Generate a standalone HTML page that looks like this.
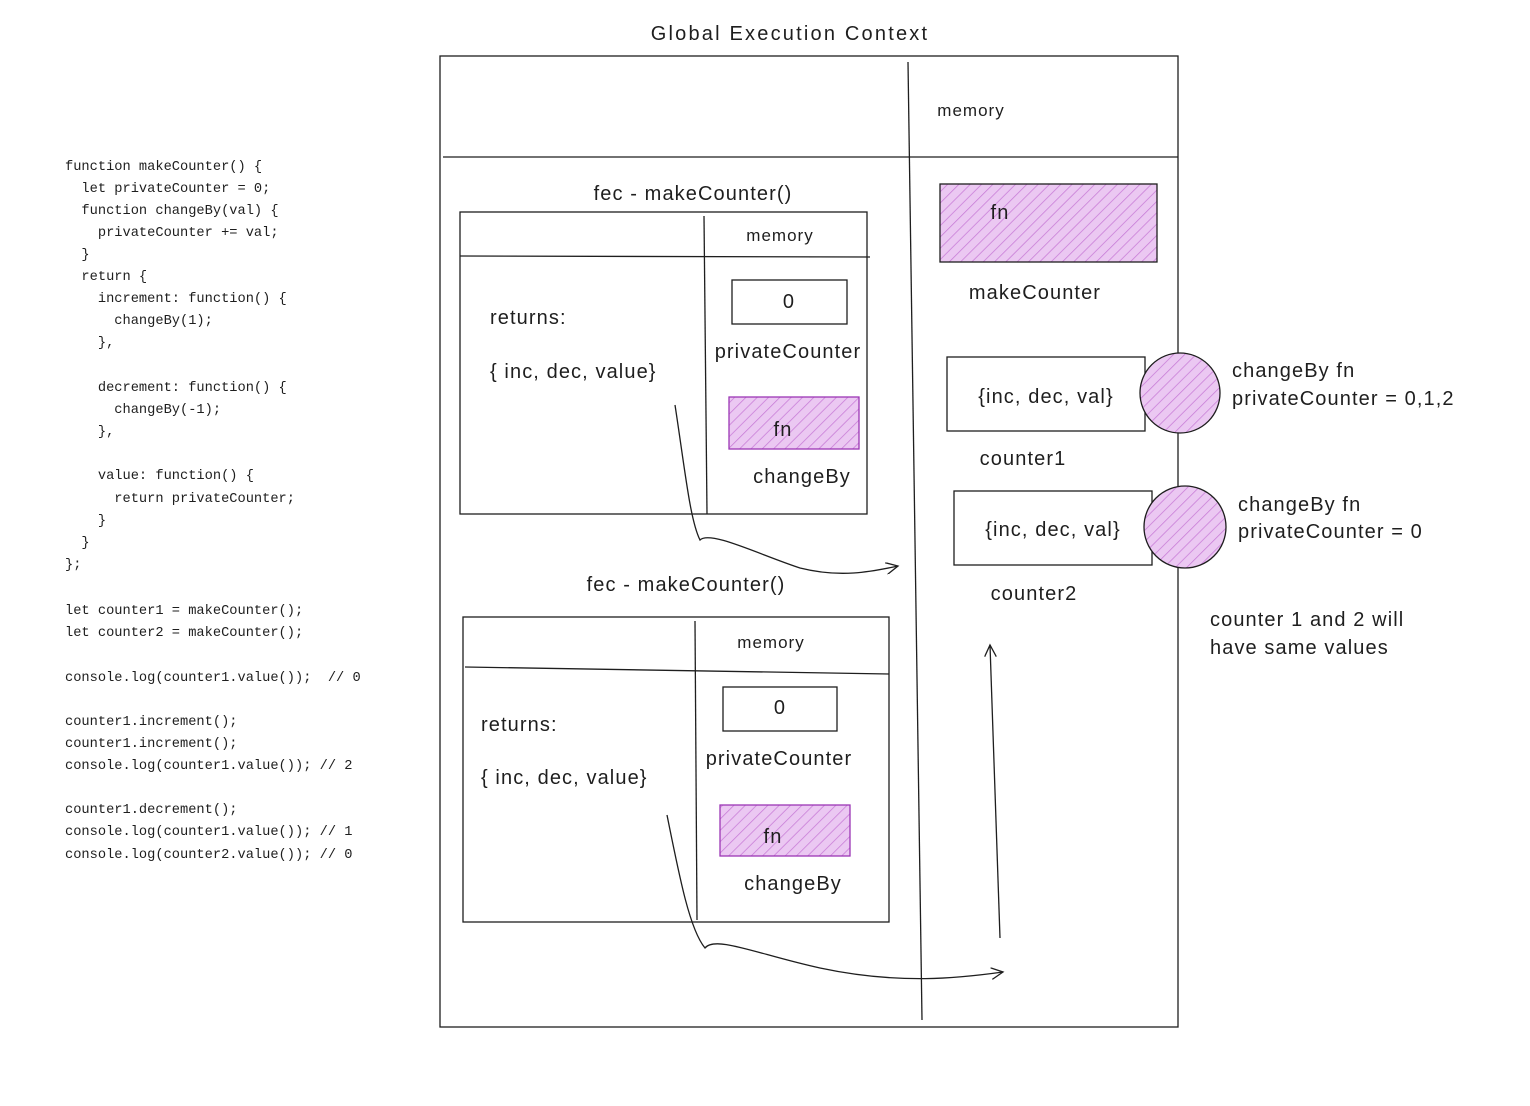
<!DOCTYPE html>
<html><head><meta charset="utf-8"><style>
html,body{margin:0;padding:0;background:#fff;}
svg{display:block;}
text{font-family:"Liberation Sans",sans-serif;fill:#1e1e1e;}
.c{font-family:"Liberation Mono",monospace;font-size:13.7px;}
.t{font-size:20px;letter-spacing:1.1px;}
.m{font-size:17px;letter-spacing:1px;}
</style></head><body>
<svg width="1530" height="1106" viewBox="0 0 1530 1106" xmlns="http://www.w3.org/2000/svg">
<defs>
<pattern id="h" width="8" height="8" patternUnits="userSpaceOnUse" patternTransform="rotate(45)">
<rect width="8" height="8" fill="#ebc8f2"/>
<line x1="0" y1="0" x2="0" y2="8" stroke="#c77ad6" stroke-width="1.5"/>
</pattern>
<marker id="a" markerWidth="14" markerHeight="12" refX="12" refY="6" orient="auto" markerUnits="userSpaceOnUse">
<path d="M0,0 L12,6 L0,12" fill="none" stroke="#1e1e1e" stroke-width="1.3"/>
</marker>
</defs>
<g stroke="#1e1e1e" stroke-width="1.3" fill="none">
<rect x="440" y="56" width="738" height="971"/>
<line x1="443" y1="157" x2="1178" y2="157"/>
<line x1="908" y1="62" x2="922" y2="1020"/>
<rect x="460" y="212" width="407" height="302"/>
<line x1="460" y1="256" x2="870" y2="257"/>
<line x1="704" y1="216" x2="707" y2="514"/>
<rect x="732" y="280" width="115" height="44"/>
<rect x="729" y="397" width="130" height="52" fill="url(#h)" stroke="#9c36b5"/>
<path d="M675,405 C685,470 690,520 700,540 C710,530 760,555 800,568 C840,578 870,572 898,566" marker-end="url(#a)"/>
<rect x="463" y="617" width="426" height="305"/>
<line x1="465" y1="667" x2="889" y2="674"/>
<line x1="695" y1="621" x2="697" y2="920"/>
<rect x="723" y="687" width="114" height="44"/>
<rect x="720" y="805" width="130" height="51" fill="url(#h)" stroke="#9c36b5"/>
<path d="M667,815 C680,880 690,930 705,948 C715,935 760,955 820,968 C900,985 960,978 1003,972" marker-end="url(#a)"/>
<rect x="940" y="184" width="217" height="78" fill="url(#h)" stroke="#1e1e1e"/>
<rect x="947" y="357" width="198" height="74"/>
<circle cx="1180" cy="393" r="40" fill="url(#h)"/>
<rect x="954" y="491" width="198" height="74"/>
<circle cx="1185" cy="527" r="41" fill="url(#h)"/>
<line x1="1000" y1="938" x2="990" y2="645" marker-end="url(#a)"/>
</g>
<text class="t" x="790" y="40" text-anchor="middle" style="letter-spacing:2.2px">Global Execution Context</text>
<text class="m" x="971" y="116" text-anchor="middle">memory</text>
<text class="t" x="693" y="200" text-anchor="middle">fec - makeCounter()</text>
<text class="m" x="780" y="241" text-anchor="middle">memory</text>
<text class="t" x="789" y="308" text-anchor="middle">0</text>
<text class="t" x="788" y="358" text-anchor="middle">privateCounter</text>
<text class="t" x="783" y="436" text-anchor="middle">fn</text>
<text class="t" x="802" y="483" text-anchor="middle">changeBy</text>
<text class="t" x="490" y="324">returns:</text>
<text class="t" x="490" y="378">{ inc, dec, value}</text>
<text class="t" x="686" y="591" text-anchor="middle">fec - makeCounter()</text>
<text class="m" x="771" y="648" text-anchor="middle">memory</text>
<text class="t" x="780" y="714" text-anchor="middle">0</text>
<text class="t" x="779" y="765" text-anchor="middle">privateCounter</text>
<text class="t" x="773" y="843" text-anchor="middle">fn</text>
<text class="t" x="793" y="890" text-anchor="middle">changeBy</text>
<text class="t" x="481" y="731">returns:</text>
<text class="t" x="481" y="784">{ inc, dec, value}</text>
<text class="t" x="1000" y="219" text-anchor="middle">fn</text>
<text class="t" x="1035" y="299" text-anchor="middle">makeCounter</text>
<text class="t" x="1046" y="403" text-anchor="middle">{inc, dec, val}</text>
<text class="t" x="1023" y="465" text-anchor="middle">counter1</text>
<text class="t" x="1053" y="536" text-anchor="middle">{inc, dec, val}</text>
<text class="t" x="1034" y="600" text-anchor="middle">counter2</text>
<text class="t" x="1232" y="377">changeBy fn</text>
<text class="t" x="1232" y="405">privateCounter = 0,1,2</text>
<text class="t" x="1238" y="511">changeBy fn</text>
<text class="t" x="1238" y="538">privateCounter = 0</text>
<text class="t" x="1210" y="626">counter 1 and 2 will</text>
<text class="t" x="1210" y="654">have same values</text>
<g>
<text class="c" x="65" y="170">function makeCounter() {</text>
<text class="c" x="65" y="192" xml:space="preserve">  let privateCounter = 0;</text>
<text class="c" x="65" y="214" xml:space="preserve">  function changeBy(val) {</text>
<text class="c" x="65" y="236" xml:space="preserve">    privateCounter += val;</text>
<text class="c" x="65" y="258" xml:space="preserve">  }</text>
<text class="c" x="65" y="280" xml:space="preserve">  return {</text>
<text class="c" x="65" y="302" xml:space="preserve">    increment: function() {</text>
<text class="c" x="65" y="324" xml:space="preserve">      changeBy(1);</text>
<text class="c" x="65" y="346" xml:space="preserve">    },</text>
<text class="c" x="65" y="391" xml:space="preserve">    decrement: function() {</text>
<text class="c" x="65" y="413" xml:space="preserve">      changeBy(-1);</text>
<text class="c" x="65" y="435" xml:space="preserve">    },</text>
<text class="c" x="65" y="479" xml:space="preserve">    value: function() {</text>
<text class="c" x="65" y="502" xml:space="preserve">      return privateCounter;</text>
<text class="c" x="65" y="524" xml:space="preserve">    }</text>
<text class="c" x="65" y="546" xml:space="preserve">  }</text>
<text class="c" x="65" y="568">};</text>
<text class="c" x="65" y="614">let counter1 = makeCounter();</text>
<text class="c" x="65" y="636">let counter2 = makeCounter();</text>
<text class="c" x="65" y="681" xml:space="preserve">console.log(counter1.value());  // 0</text>
<text class="c" x="65" y="725">counter1.increment();</text>
<text class="c" x="65" y="747">counter1.increment();</text>
<text class="c" x="65" y="769">console.log(counter1.value()); // 2</text>
<text class="c" x="65" y="813">counter1.decrement();</text>
<text class="c" x="65" y="835">console.log(counter1.value()); // 1</text>
<text class="c" x="65" y="858">console.log(counter2.value()); // 0</text>
</g>
</svg>
</body></html>
